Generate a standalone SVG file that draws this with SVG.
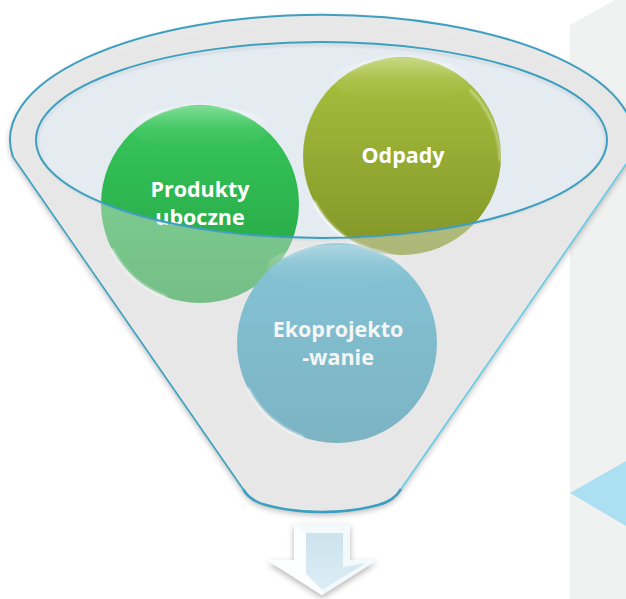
<svg xmlns="http://www.w3.org/2000/svg" width="626" height="599" viewBox="0 0 626 599">
<style>
.lbl{font-family:"Open Sans","Liberation Sans",sans-serif;font-weight:700;font-size:21.5px;text-anchor:middle;fill:#ffffff}
.hl{fill:none;stroke:#ffffff;stroke-linecap:round}
</style>
<defs>
<linearGradient id="gGreen" x1="0" y1="0" x2="0" y2="1"><stop offset="0" stop-color="#38c85b"/><stop offset="1" stop-color="#23a243"/></linearGradient>
<linearGradient id="gOlive" x1="0" y1="0" x2="0" y2="1"><stop offset="0" stop-color="#a9c13e"/><stop offset="1" stop-color="#829528"/></linearGradient>
<linearGradient id="gBlue" x1="0" y1="0" x2="0" y2="1"><stop offset="0" stop-color="#3eaac9"/><stop offset="1" stop-color="#2f8faa"/></linearGradient>
<linearGradient id="gTop" x1="0" y1="0" x2="0" y2="1"><stop offset="0" stop-color="#ffffff" stop-opacity="0.35"/><stop offset="0.5" stop-color="#ffffff" stop-opacity="0.08"/><stop offset="1" stop-color="#ffffff" stop-opacity="0"/></linearGradient>
<linearGradient id="gArrow" x1="0" y1="0" x2="0" y2="1"><stop offset="0" stop-color="#cde3ed"/><stop offset="1" stop-color="#dcedf5"/></linearGradient>
<filter id="blur1" x="-10%" y="-10%" width="120%" height="120%"><feGaussianBlur stdDeviation="1.2"/></filter>
<filter id="shadow" x="-10%" y="-10%" width="120%" height="130%"><feGaussianBlur in="SourceAlpha" stdDeviation="3"/><feOffset dy="3"/><feComponentTransfer><feFuncA type="linear" slope="0.3"/></feComponentTransfer><feMerge><feMergeNode/><feMergeNode in="SourceGraphic"/></feMerge></filter>
</defs>

<g id="panel">
<polygon points="570,25 615,0 626,0 626,599 570,599" fill="#f0f1f1"/>
<polygon points="570,493 626,461 626,526" fill="#abdff1"/>
</g>

<g id="funnel-back" filter="url(#shadow)">
<path d="M13,157 A312,125 0 1 1 631,157 L401,489 Q394,501 378,505 Q352,512 322,512 Q292,512 266,505 Q250,501 243,489 Z" fill="#e8e8e8" fill-opacity="0.95"/>
<ellipse cx="321.5" cy="140" rx="285.5" ry="98" fill="#e4ebf1"/>
</g>

<g id="node-produkty">
<circle cx="200" cy="204" r="99" fill="url(#gGreen)"/>
<ellipse cx="200" cy="128" rx="70" ry="22" fill="url(#gTop)"/>
<path class="hl" d="M150,118 A99,99 0 0 1 250,118" stroke-width="2" opacity="0.35" filter="url(#blur1)"/>
<path class="hl" d="M112,250 A99,99 0 0 0 165,297" stroke-width="3" opacity="0.7" filter="url(#blur1)"/>
<text class="lbl" x="200" y="197">Produkty</text>
<text class="lbl" x="200" y="225">uboczne</text>
</g>

<g id="node-odpady">
<circle cx="402" cy="156" r="99" fill="url(#gOlive)"/>
<ellipse cx="402" cy="80" rx="70" ry="22" fill="url(#gTop)"/>
<path class="hl" d="M352,70 A99,99 0 0 1 452,70" stroke-width="2" opacity="0.35" filter="url(#blur1)"/>
<path class="hl" d="M314,202 A99,99 0 0 0 367,249" stroke-width="3" opacity="0.75" filter="url(#blur1)"/>
<path class="hl" d="M470,90 A99,99 0 0 1 500,160" stroke-width="2" opacity="0.5" filter="url(#blur1)"/>
<text class="lbl" x="403" y="163">Odpady</text>
</g>

<g id="node-eko">
<circle cx="337" cy="343" r="100" fill="url(#gBlue)"/>
<ellipse cx="337" cy="267" rx="70" ry="22" fill="url(#gTop)"/>
<path class="hl" d="M287,257 A100,100 0 0 1 387,257" stroke-width="2" opacity="0.35" filter="url(#blur1)"/>
<path class="hl" d="M248,389 A100,100 0 0 0 302,437" stroke-width="3" opacity="0.75" filter="url(#blur1)"/>
<text class="lbl" x="338" y="337">Ekoprojekto</text>
<text class="lbl" x="338" y="365">-wanie</text>
</g>

<g id="funnel-front">
<path d="M13,157 A312,125 0 1 1 631,157 L401,489 Q394,501 378,505 Q352,512 322,512 Q292,512 266,505 Q250,501 243,489 Z M36,140 A285.5,98 0 1 0 607,140 A285.5,98 0 1 0 36,140 Z" fill="#e8e8e8" fill-opacity="0.42" fill-rule="evenodd"/>
<path d="M13,157 A312,125 0 1 1 631,157" fill="none" stroke="#3f9fbf" stroke-width="2"/>
<path d="M13,157 L243,489" fill="none" stroke="#3aa2c3" stroke-width="1.6"/>
<path d="M631,157 L401,489" fill="none" stroke="#62cde8" stroke-width="1.6"/>
<path d="M401,489 Q394,501 378,505 Q352,512 322,512 Q292,512 266,505 Q250,501 243,489" fill="none" stroke="#3a9fc0" stroke-width="2.5"/>
<ellipse cx="321.5" cy="142" rx="284" ry="97" fill="none" stroke="#9aa4aa" stroke-width="1.5" opacity="0.35" filter="url(#blur1)"/>
<ellipse cx="321.5" cy="140" rx="285.5" ry="98" fill="none" stroke="#3d9fbf" stroke-width="2"/>
</g>

<g id="connectors">
<polygon points="294,524 350,524 350,560 377,560 322,595 267,560 294,560" fill="#f4f9fc" filter="url(#shadow)"/>
<polygon points="306,533 343,533 343,567 366,563 322,590 306,574" fill="url(#gArrow)"/>
<polygon points="294,524 306,533 306,574 322,590 322,595 267,560 294,560" fill="#ffffff" opacity="0.8"/>
</g>
</svg>
